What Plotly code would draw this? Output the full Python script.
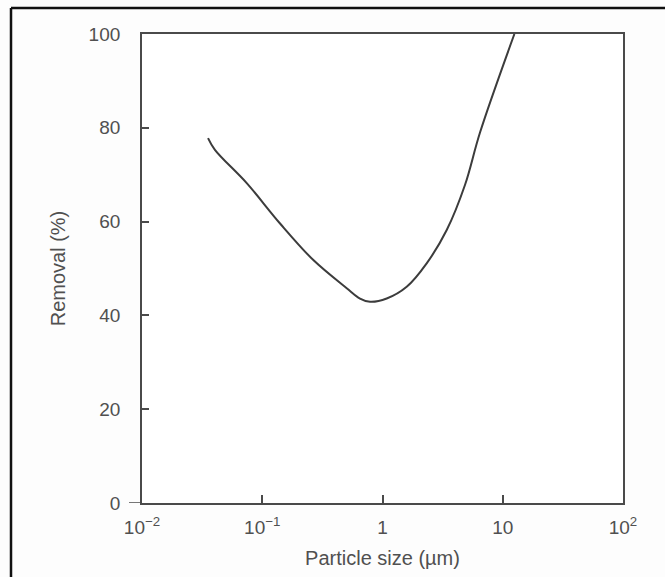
import plotly.graph_objects as go

# Data
particle_size_um = [0.0354, 0.0404, 0.0743, 0.1406, 0.266, 0.504, 0.650, 0.787,
                    1.084, 1.589, 2.33, 3.42, 4.85, 6.47, 12.5]
removal_pct = [77.8, 75.3, 68.2, 59.6, 51.8, 45.8, 43.6, 42.9,
               43.6, 46.1, 51.1, 58.2, 67.8, 79.0, 100.0]

x_tick_vals = [0.01, 0.1, 1, 10, 100]
x_tick_text = ["10<sup>−2</sup>", "10<sup>−1</sup>", "1", "10", "10<sup>2</sup>"]
y_tick_vals = [0, 20, 40, 60, 80, 100]

FONT = "Liberation Sans, Arial, sans-serif"
TXT = "#505050"
AX = "#4a4a4a"

fig = go.Figure()
fig.add_trace(go.Scatter(
    x=particle_size_um, y=removal_pct, mode="lines",
    line=dict(color="#3c3c3c", width=2, shape="spline", smoothing=1.0),
    showlegend=False, hoverinfo="skip",
))

fig.update_layout(
    width=665, height=577,
    margin=dict(l=142, r=42, t=34, b=74),
    paper_bgcolor="#fdfdfd", plot_bgcolor="white",
    font=dict(family=FONT, size=19, color=TXT),
    xaxis=dict(
        type="log", range=[-2, 2],
        tickvals=x_tick_vals, ticktext=x_tick_text,
        ticks="inside", ticklen=8, tickwidth=1.5, tickcolor=AX,
        showline=True, linecolor=AX, linewidth=1.8, mirror=True,
        showgrid=False, zeroline=False,
        ticklabelstandoff=6,
        title=dict(text="Particle size (µm)", standoff=14,
                   font=dict(family=FONT, size=20, color=TXT)),
    ),
    yaxis=dict(
        range=[0, 100], tickvals=y_tick_vals,
        ticks="inside", ticklen=7, tickwidth=1.5, tickcolor=AX,
        showline=True, linecolor=AX, linewidth=1.8, mirror=True,
        showgrid=False, zeroline=False,
        ticklabelstandoff=16,
        title=dict(text="Removal (%)", standoff=18,
                   font=dict(family=FONT, size=20, color=TXT)),
    ),
)

# short outside tick at the origin of the y axis
fig.add_shape(type="line", xref="paper", yref="y",
              x0=-13 / 481, x1=0, y0=0, y1=0,
              line=dict(color=AX, width=1.5))

# outer frame (left and top edges of the scanned figure)
fx = (11 - 142) / 481
fy = (577 - 8 - 74) / 469
fig.add_shape(type="line", xref="paper", yref="paper",
              x0=fx, x1=fx, y0=fy, y1=-74 / 469 - 0.01,
              line=dict(color="#111111", width=2.5))
fig.add_shape(type="line", xref="paper", yref="paper",
              x0=fx, x1=(665 - 142) / 481, y0=fy, y1=fy,
              line=dict(color="#111111", width=2.5))

fig.write_html("out.html")
